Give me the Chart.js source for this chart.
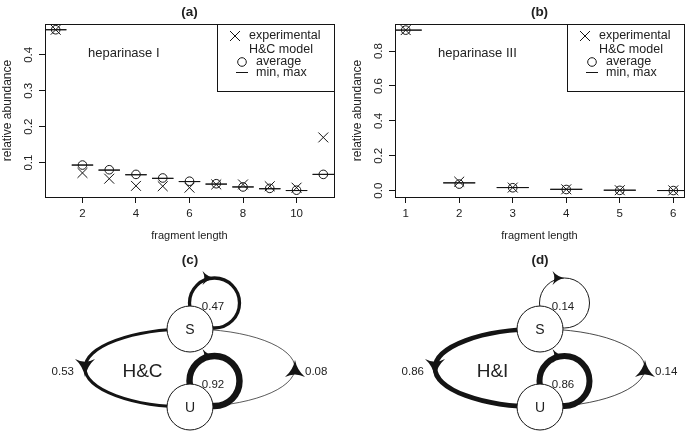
<!DOCTYPE html>
<html>
<head>
<meta charset="utf-8">
<script src="https://cdn.jsdelivr.net/npm/chart.js@4.4.0/dist/chart.umd.min.js"></script>
<style>
  html, body { margin: 0; padding: 0; background: #fff; }
  #wrap { position: relative; width: 685px; height: 447px; overflow: hidden; }
  #wrap canvas { position: absolute; }
</style>
</head>
<body>
<div id="wrap">
  <canvas id="chartA" width="342" height="245" style="left:0;top:0"></canvas>
  <canvas id="chartB" width="335" height="245" style="left:350px;top:0"></canvas>
  <canvas id="chartC" width="342" height="202" style="left:0;top:245px"></canvas>
  <canvas id="chartD" width="335" height="202" style="left:350px;top:245px"></canvas>
</div>
<script>
// panel (a): heparinase I
const lengthA = [1, 2, 3, 4, 5, 6, 7, 8, 9, 10, 11];
const expA = [0.470, 0.071, 0.055, 0.035, 0.034, 0.030, 0.039, 0.039, 0.034, 0.030, 0.170];
const avgA = [0.470, 0.093, 0.080, 0.067, 0.057, 0.048, 0.041, 0.032, 0.028, 0.023, 0.067];
const minA = [0.470, 0.093, 0.079, 0.066, 0.056, 0.047, 0.040, 0.032, 0.027, 0.022, 0.067];
const maxA = [0.470, 0.093, 0.079, 0.066, 0.056, 0.047, 0.040, 0.032, 0.027, 0.022, 0.067];
const xTicksA = [2, 4, 6, 8, 10];
const yTicksA = [0.1, 0.2, 0.3, 0.4];

// panel (b): heparinase III
const lengthB = [1, 2, 3, 4, 5, 6];
const expB = [0.920, 0.052, 0.018, 0.008, 0.003, 0.002];
const avgB = [0.920, 0.038, 0.017, 0.007, 0.002, 0.001];
const minB = [0.920, 0.045, 0.018, 0.008, 0.003, 0.001];
const maxB = [0.920, 0.045, 0.018, 0.008, 0.003, 0.001];
const xTicksB = [1, 2, 3, 4, 5, 6];
const yTicksB = [0.0, 0.2, 0.4, 0.6, 0.8];

// panels (c), (d): transition probabilities
const states = ['S', 'U'];
const fromState = ['S', 'S', 'U', 'U'];
const toState = ['S', 'U', 'U', 'S'];
const probHC = [0.47, 0.53, 0.92, 0.08];
const probHI = [0.14, 0.86, 0.86, 0.14];

const ink = '#141414';
const textInk = '#222';
const FONT = '"Liberation Sans", Arial, Helvetica, sans-serif';
Chart.defaults.font.family = FONT;
Chart.defaults.color = textInk;

const pts = (xs, ys) => xs.map((x, i) => ({ x: x, y: ys[i] }));

function text(ctx, s, x, y, font, align, rot) {
    ctx.save();
    ctx.font = font;
    ctx.textAlign = align || 'center';
    ctx.textBaseline = 'middle';
    ctx.translate(x, y);
    if (rot) ctx.rotate(rot);
    ctx.fillText(s, 0, 0);
    ctx.restore();
}

// R style frame, rotated y labels, titles, legend
const rFrame = {
    id: 'rFrame',
    afterDraw(chart, args, o) {
        const { ctx, chartArea: a } = chart;
        const ys = chart.scales.y;
        ctx.save();
        ctx.strokeStyle = ink;
        ctx.fillStyle = textInk;
        ctx.lineWidth = 1;
        ctx.strokeRect(Math.round(a.left) + 0.5, Math.round(a.top) + 0.5,
            Math.round(a.right - a.left), Math.round(a.bottom - a.top));

        ys.ticks.forEach(t => {
            text(ctx, t.value.toFixed(1), a.left - 16, ys.getPixelForValue(t.value),
                '11.5px ' + FONT, 'center', -Math.PI / 2);
        });
        const mid = (a.left + a.right) / 2;
        text(ctx, 'relative abundance', 8, (a.top + a.bottom) / 2, '12px ' + FONT, 'center', -Math.PI / 2);
        text(ctx, 'fragment length', mid, 236, '11px ' + FONT);
        text(ctx, o.title, mid, 12, 'bold 13.5px ' + FONT);
        text(ctx, o.note, a.left + 43, 53, '13px ' + FONT, 'left');

        // legend
        const lx = a.right - 117, lb = 91;
        ctx.strokeRect(Math.round(lx) + 0.5, Math.round(a.top) + 0.5, Math.round(a.right - lx), lb - Math.round(a.top));
        const f = '12.5px ' + FONT;
        const sx = lx + 18;
        ctx.beginPath();
        ctx.moveTo(sx - 5, 31); ctx.lineTo(sx + 5, 41);
        ctx.moveTo(sx + 5, 31); ctx.lineTo(sx - 5, 41);
        ctx.stroke();
        text(ctx, 'experimental', lx + 32, 36, f, 'left');
        text(ctx, 'H&C model', lx + 32, 50, f, 'left');
        ctx.beginPath();
        ctx.arc(sx + 7, 62, 4.3, 0, Math.PI * 2);
        ctx.stroke();
        text(ctx, 'average', lx + 39, 62, f, 'left');
        ctx.beginPath();
        ctx.moveTo(sx + 1, 72.5); ctx.lineTo(sx + 13, 72.5);
        ctx.stroke();
        text(ctx, 'min, max', lx + 39, 72.5, f, 'left');
        ctx.restore();
    }
};

function plotPanel(id, xs, exp, avg, mn, mx, xTicks, yTicks, xRange, yRange, dash, title, note) {
    const el = document.getElementById(id);
    const mark = { borderColor: ink, backgroundColor: 'rgba(0,0,0,0)', borderWidth: 1 };
    return new Chart(el, {
        type: 'scatter',
        data: {
            datasets: [
                Object.assign({ label: 'min', data: pts(xs, mn), pointStyle: 'line', pointRadius: dash }, mark),
                Object.assign({ label: 'max', data: pts(xs, mx), pointStyle: 'line', pointRadius: dash }, mark),
                Object.assign({ label: 'average', data: pts(xs, avg), pointStyle: 'circle', pointRadius: 4.3 }, mark),
                Object.assign({ label: 'experimental', data: pts(xs, exp), pointStyle: 'crossRot', pointRadius: 7 }, mark)
            ]
        },
        options: {
            responsive: false,
            animation: false,
            events: [],
            layout: { autoPadding: false, padding: { top: 24, right: el.width - 334, left: 0, bottom: 0 } },
            scales: {
                x: {
                    type: 'linear', min: xRange[0], max: xRange[1],
                    afterBuildTicks: s => { s.ticks = xTicks.map(v => ({ value: v })); },
                    afterFit: s => { s.height = 48; },
                    grid: { drawOnChartArea: false, drawTicks: true, tickLength: 6, color: ink },
                    border: { display: false },
                    ticks: { color: textInk, font: { size: 11.5 }, padding: 4, maxRotation: 0, autoSkip: false,
                        callback: v => String(v) }
                },
                y: {
                    type: 'linear', min: yRange[0], max: yRange[1],
                    afterBuildTicks: s => { s.ticks = yTicks.map(v => ({ value: v })); },
                    afterFit: s => { s.width = 45; },
                    grid: { drawOnChartArea: false, drawTicks: true, tickLength: 6, color: ink },
                    border: { display: false },
                    ticks: { display: false }
                }
            },
            plugins: {
                legend: { display: false },
                tooltip: { enabled: false },
                rFrame: { title: title, note: note }
            }
        },
        plugins: [rFrame]
    });
}

plotPanel('chartA', lengthA, expA, avgA, minA, maxA, xTicksA, yTicksA, [0.6, 11.4], [0.004, 0.486], 10.7, '(a)', 'heparinase I');
plotPanel('chartB', lengthB, expB, avgB, minB, maxB, xTicksB, yTicksB, [0.8, 6.2], [-0.036, 0.955], 16, '(b)', 'heparinase III');

function arrowHead(ctx, x, y, ang, len, half) {
    ctx.save();
    ctx.translate(x, y);
    ctx.rotate(ang);
    ctx.beginPath();
    ctx.moveTo(0, 0);
    ctx.quadraticCurveTo(-len * 0.6, -half * 0.2, -len, -half);
    ctx.quadraticCurveTo(-len * 0.7, 0, -len, half);
    ctx.quadraticCurveTo(-len * 0.6, half * 0.2, 0, 0);
    ctx.closePath();
    ctx.fill();
    ctx.restore();
}

// edges of the two state model, drawn under the node circles
const stateGraph = {
    id: 'stateGraph',
    beforeDatasetsDraw(chart, args, o) {
        const { ctx } = chart;
        const xs = chart.scales.x, ys = chart.scales.y;
        const px = v => xs.getPixelForValue(v), py = v => ys.getPixelForValue(v);
        const nodes = chart.data.datasets[0].data;
        const node = s => nodes[states.indexOf(s)];
        const S = node('S'), U = node('U');
        const cx = px((S.x + U.x) / 2), cy = py((S.y + U.y) / 2);
        const rx = px(105) - px(0), ry = Math.abs(py(S.y) - py(U.y)) / 2;
        const lf = '11.5px ' + FONT;
        ctx.save();
        ctx.strokeStyle = ink;
        ctx.fillStyle = ink;
        o.probs.forEach((p, i) => {
            const from = fromState[i], to = toState[i];
            if (from === to) {
                const n = node(from);
                const lx = px(n.x + 24.5), ly = py(n.y + 26), r = px(25) - px(0);
                ctx.lineWidth = p * 7;
                ctx.beginPath();
                ctx.arc(lx, ly, r, 0, Math.PI * 2);
                ctx.stroke();
                arrowHead(ctx, lx, ly - r, 0, 12, 7);
                ctx.fillStyle = textInk;
                text(ctx, p.toFixed(2), px(n.x + 23), py(n.y + 22), lf);
                ctx.fillStyle = ink;
            } else {
                const left = from === 'S';
                ctx.lineWidth = Math.max(p * 5.5, 0.7);
                ctx.beginPath();
                ctx.ellipse(cx, cy, rx, ry, 0, -Math.PI / 2, Math.PI / 2, left);
                ctx.stroke();
                if (left) {
                    arrowHead(ctx, cx - rx, cy + 9, Math.PI / 2, 18, 10);
                    ctx.fillStyle = textInk;
                    text(ctx, p.toFixed(2), cx - rx - 11, cy + 4, lf, 'right');
                } else {
                    arrowHead(ctx, cx + rx, cy - 8, -Math.PI / 2, 17, 10);
                    ctx.fillStyle = textInk;
                    text(ctx, p.toFixed(2), cx + rx + 10, cy + 4, lf, 'left');
                }
                ctx.fillStyle = ink;
            }
        });
        ctx.restore();
    },
    afterDatasetsDraw(chart, args, o) {
        const { ctx } = chart;
        const xs = chart.scales.x, ys = chart.scales.y;
        const nodes = chart.data.datasets[0].data;
        ctx.save();
        ctx.fillStyle = textInk;
        nodes.forEach((n, i) => {
            text(ctx, states[i], xs.getPixelForValue(n.x), ys.getPixelForValue(n.y) + 1, '14px ' + FONT);
        });
        text(ctx, o.model, xs.getPixelForValue(-47.5), ys.getPixelForValue(-4), '19px ' + FONT);
        text(ctx, o.title, xs.getPixelForValue(0), 15, 'bold 13.5px ' + FONT);
        ctx.restore();
    }
};

function diagramPanel(id, probs, model, title) {
    const el = document.getElementById(id);
    // node layout in diagram units (1 unit = 1 px), origin at the centre of the loop
    const nodeLayout = { S: { x: 0, y: 39 }, U: { x: 0, y: -39 } };
    return new Chart(el, {
        type: 'scatter',
        data: {
            datasets: [{
                label: 'states',
                data: states.map(s => nodeLayout[s]),
                pointStyle: 'circle',
                pointRadius: 23,
                backgroundColor: '#fff',
                borderColor: ink,
                borderWidth: 1
            }]
        },
        options: {
            responsive: false,
            animation: false,
            events: [],
            layout: { autoPadding: false, padding: 0 },
            scales: {
                x: { display: false, type: 'linear', min: -190, max: el.width - 190 },
                y: { display: false, type: 'linear', min: -79, max: 123 }
            },
            plugins: {
                legend: { display: false },
                tooltip: { enabled: false },
                stateGraph: { probs: probs, model: model, title: title }
            }
        },
        plugins: [stateGraph]
    });
}

diagramPanel('chartC', probHC, 'H&C', '(c)');
diagramPanel('chartD', probHI, 'H&I', '(d)');
</script>
</body>
</html>
